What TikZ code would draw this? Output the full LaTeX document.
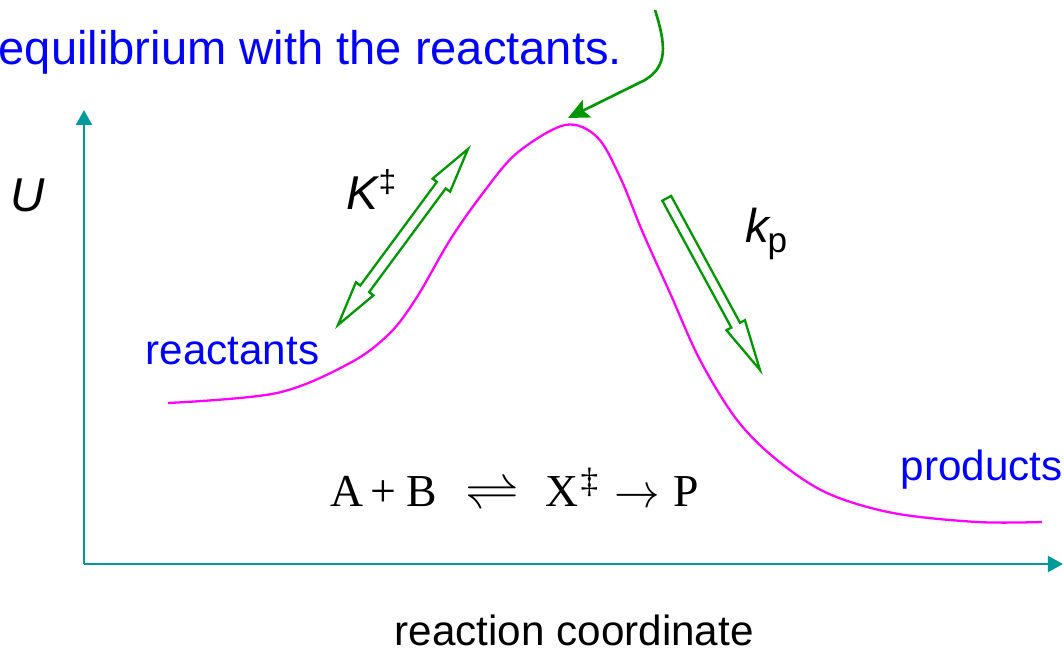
\documentclass[tikz,border=0pt]{standalone}
\usepackage{fontspec}
\usetikzlibrary{arrows.meta}
\newfontfamily\arial{Liberation Sans}
\newfontfamily\tnr{Liberation Serif}
\definecolor{axisteal}{RGB}{0,153,153}
\definecolor{arrgreen}{RGB}{0,150,0}
\definecolor{curvemag}{RGB}{255,0,255}
\definecolor{lblblue}{RGB}{0,0,255}
\begin{document}
\begin{tikzpicture}[x=0.01cm,y=-0.01cm,
  axis/.style={draw=axisteal, line width=0.85pt, -{Triangle[length=4.3pt,width=4.5pt]}},
  energy/.style={draw=curvemag, line width=0.65pt},
  hollow/.style={draw=arrgreen, line width=0.65pt, line join=miter, fill=white},
  pointer/.style={draw=arrgreen, line width=0.75pt, -{Stealth[length=6pt,width=5.5pt,inset=1.2pt]}},
  bluelbl/.style={font=\arial\fontsize{12}{14}\selectfont, text=lblblue, inner sep=0, anchor=base west},
  sym/.style={font=\arial\fontsize{13.5}{15}\selectfont, inner sep=0, anchor=base west},
  eq/.style={font=\tnr\fontsize{13}{15}\selectfont, inner sep=0, anchor=base west}
]
\useasboundingbox (0,0) rectangle (1064,649);

% caption fragment
\node[bluelbl, font=\arial\fontsize{13.4}{15}\selectfont] (cap) at (-2,65) {equilibrium with the reactants.};

% axes
\coordinate (O) at (84,564);
\coordinate (Ytip) at (84,110);
\coordinate (Xtip) at (1063,564);
\draw[axis] (O) -- (Ytip);
\draw[axis] (O) -- (Xtip);
\node[sym, font=\arial\itshape\fontsize{13.5}{15}\selectfont] (U) at (10,212) {U};
\node[bluelbl, text=black] (rc) at (394,645) {reaction coordinate};

% energy profile
\draw[energy] plot[smooth, tension=0.55] coordinates {
  (168,403) (277,393) (350,363) (390,333) (417,297) (450,240) (483,193)
  (517,153) (565,125) (597,137) (620,177) (643,233) (670,293) (700,360)
  (737,420) (777,460) (827,493) (893,513) (977,522) (1042,522)};
\coordinate (peak) at (568,118);

\node[bluelbl] (react) at (145,365) {reactants};
\node[bluelbl] (prod) at (900,480) {products};

% K double arrow
\draw[hollow] (338,325) -- (355.9,282.3) -- (360.3,285.5) -- (436.9,181.9)
  -- (432.5,178.7) -- (468,149) -- (450.1,191.7) -- (445.7,188.5)
  -- (369.1,292.1) -- (373.5,295.3) -- cycle;
\node[sym, font=\arial\itshape\fontsize{13.5}{15}\selectfont] (K) at (346,210) {K};
\node[sym, font=\arial\fontsize{9}{10}\selectfont] (Kdag) at (378,193) {‡};

% kp arrow
\draw[hollow] (662.3,200.7) -- (731.3,327.6) -- (726.4,330.2) -- (760,370)
  -- (744.9,320.2) -- (740.0,322.8) -- (671.1,195.9) -- cycle;
\node[sym, font=\arial\itshape\fontsize{13.5}{15}\selectfont] (k) at (745,243) {k};
\node[sym, font=\arial\fontsize{10}{11}\selectfont] (p) at (767,253) {p};

% pointer to the transition state
\coordinate (g1) at (655,10);
\draw[pointer] (g1) .. controls (666,45) and (668,66) .. (645,80) -- (peak);

% reaction equation
\node[eq] (A) at (330,506) {A};
\node[eq] (plus) at (370,506) {+};
\node[eq] (B) at (406,506) {B};
\node[eq] (eqm) at (465,508) {\scalebox{1.3}[1.2]{$\rightleftharpoons$}};
\node[eq] (X) at (545,506) {X};
\node[eq, font=\tnr\fontsize{10}{11}\selectfont] (Xdag) at (580,492) {‡};
\node[eq] (to) at (614,507) {\scalebox{1.08}[1.15]{$\rightarrow$}};
\node[eq] (P) at (673,506) {P};
\end{tikzpicture}
\end{document}
